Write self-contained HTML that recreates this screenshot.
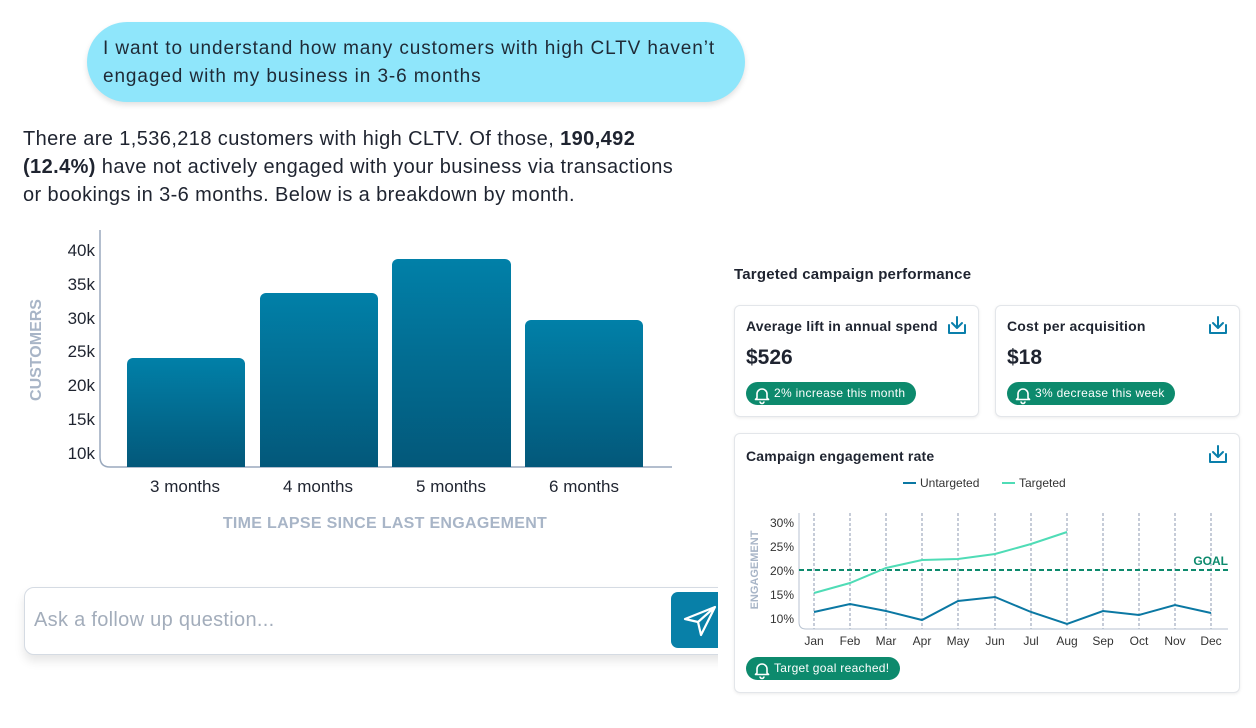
<!DOCTYPE html>
<html><head><meta charset="utf-8"><style>
body{margin:0;width:1256px;height:728px;background:#fff;position:relative;overflow:hidden;font-family:"Liberation Sans",sans-serif;color:#1f2430}
.a{position:absolute}
.card{position:absolute;background:#fff;border:1px solid #e3e6ea;border-radius:6px;box-shadow:0 1px 3px rgba(0,0,0,.08)}
.pill{position:absolute;background:#0d8a6d;color:#fff;border-radius:12px;font-size:12px;height:23px;line-height:23px;padding:0 10px 0 28px;letter-spacing:.3px}
.t{font-weight:bold;font-size:14px;letter-spacing:.2px}
</style></head><body>
<div class="a" style="left:87px;top:22px;width:658px;height:80px;border-radius:40px;background:#8fe6fb;box-shadow:0 3px 6px rgba(0,0,0,.12)"></div>
<div class="a" style="left:103px;top:35px;font-size:19px;line-height:28px;color:#1f2a36;letter-spacing:.9px">I want to understand how many customers with high CLTV haven’t<br>engaged with my business in 3-6 months</div>
<div class="a" style="left:23px;top:125px;font-size:20px;line-height:28px;color:#1f2430;letter-spacing:.4px">There are 1,536,218 customers with high CLTV. Of those, <b>190,492</b><br><b>(12.4%)</b> have not actively engaged with your business via transactions<br>or bookings in 3-6 months. Below is a breakdown by month.</div>

<svg class="a" style="left:0;top:0" width="720" height="560">
<defs><linearGradient id="g" x1="0" y1="0" x2="0" y2="1"><stop offset="0" stop-color="#0180a8"/><stop offset="1" stop-color="#03587a"/></linearGradient></defs>
<path d="M100 230 V457 Q100 467 110 467 H672" fill="none" stroke="#9aa9bd" stroke-width="1.5"/>
<g font-size="17" fill="#1f2430" text-anchor="end">
<text x="95" y="256">40k</text><text x="95" y="290">35k</text><text x="95" y="324">30k</text><text x="95" y="357">25k</text><text x="95" y="391">20k</text><text x="95" y="425">15k</text><text x="95" y="459">10k</text></g>
<text transform="translate(41,350) rotate(-90)" text-anchor="middle" font-size="16" font-weight="bold" fill="#a8b5c7">CUSTOMERS</text>
<path d="M127 467V364a6 6 0 0 1 6-6h106a6 6 0 0 1 6 6V467Z" fill="url(#g)"/>
<path d="M260 467V299a6 6 0 0 1 6-6h106a6 6 0 0 1 6 6V467Z" fill="url(#g)"/>
<path d="M392 467V265a6 6 0 0 1 6-6h107a6 6 0 0 1 6 6V467Z" fill="url(#g)"/>
<path d="M525 467V326a6 6 0 0 1 6-6h106a6 6 0 0 1 6 6V467Z" fill="url(#g)"/>
<g font-size="17" fill="#1f2430" text-anchor="middle">
<text x="185" y="492">3 months</text><text x="318" y="492">4 months</text><text x="451" y="492">5 months</text><text x="584" y="492">6 months</text></g>
<text x="385" y="528" text-anchor="middle" font-size="16" font-weight="bold" fill="#a8b5c7" letter-spacing="0.3">TIME LAPSE SINCE LAST ENGAGEMENT</text>
</svg>

<div class="a" style="left:24px;top:587px;width:720px;height:66px;border:1px solid #d5dbe3;border-radius:10px;background:#fff;box-shadow:0 6px 10px rgba(0,0,0,.1)"></div>
<div class="a" style="left:34px;top:609px;font-size:20px;color:#a3adbb;letter-spacing:.3px">Ask a follow up question...</div>
<div class="a" style="left:671px;top:592px;width:60px;height:56px;background:#0880a8;border-radius:7px"></div>
<svg class="a" style="left:682px;top:602px" width="36" height="36"><path d="M3 17 L33 5 L19 33 L16 20 Z M16 20 L33 5" fill="none" stroke="#fff" stroke-width="2.2" stroke-linejoin="round"/></svg>
<div class="a" style="left:718px;top:560px;width:20px;height:120px;background:#fff"></div>

<div class="a t" style="left:734px;top:266px;font-size:15px">Targeted campaign performance</div>
<div class="card" style="left:734px;top:305px;width:243px;height:110px"></div>
<div class="card" style="left:995px;top:305px;width:243px;height:110px"></div>
<div class="a t" style="left:746px;top:318px">Average lift in annual spend</div>
<div class="a t" style="left:1007px;top:318px">Cost per acquisition</div>
<div class="a" style="left:746px;top:346px;font-size:21px;font-weight:bold">$526</div>
<div class="a" style="left:1007px;top:346px;font-size:21px;font-weight:bold">$18</div>
<div class="pill" style="left:746px;top:382px;width:132px">2% increase this month</div>
<div class="pill" style="left:1007px;top:382px;width:130px">3% decrease this week</div>

<div class="card" style="left:734px;top:433px;width:504px;height:258px"></div>
<div class="a t" style="left:746px;top:448px">Campaign engagement rate</div>
<div class="pill" style="left:746px;top:657px;width:116px">Target goal reached!</div>

<svg class="a" style="left:0;top:0" width="1256" height="728" font-family="Liberation Sans,sans-serif">
<g fill="none" stroke="#0a7fab" stroke-width="2" stroke-linecap="round" stroke-linejoin="round">
<path d="M949 325v8h16v-8M957 317v11M952 323l5 5 5-5"/>
<path d="M1210 325v8h16v-8M1218 317v11M1213 323l5 5 5-5"/>
<path d="M1210 454v8h16v-8M1218 446v11M1213 452l5 5 5-5"/>
</g>
<g fill="none" stroke="#fff" stroke-width="1.6" stroke-linejoin="round">
<path d="M757 398v-4a5 5 0 0 1 10 0v4l1.5 1.5h-13Z M760 401.5a2 2 0 0 0 4 0"/>
<path d="M1018 398v-4a5 5 0 0 1 10 0v4l1.5 1.5h-13Z M1021 401.5a2 2 0 0 0 4 0"/>
<path d="M757 673v-4a5 5 0 0 1 10 0v4l1.5 1.5h-13Z M760 676.5a2 2 0 0 0 4 0"/>
</g>
<line x1="903" y1="483" x2="916" y2="483" stroke="#0b78a3" stroke-width="2"/>
<text x="920" y="487" font-size="12" fill="#333">Untargeted</text>
<line x1="1002" y1="483" x2="1015" y2="483" stroke="#4fdcb6" stroke-width="2"/>
<text x="1019" y="487" font-size="12" fill="#333">Targeted</text>
<g stroke="#8d9ab0" stroke-width="1" stroke-dasharray="3,2">
<line x1="814" y1="513" x2="814" y2="629"/><line x1="850" y1="513" x2="850" y2="629"/><line x1="886" y1="513" x2="886" y2="629"/><line x1="922" y1="513" x2="922" y2="629"/><line x1="958" y1="513" x2="958" y2="629"/><line x1="995" y1="513" x2="995" y2="629"/><line x1="1031" y1="513" x2="1031" y2="629"/><line x1="1067" y1="513" x2="1067" y2="629"/><line x1="1103" y1="513" x2="1103" y2="629"/><line x1="1139" y1="513" x2="1139" y2="629"/><line x1="1175" y1="513" x2="1175" y2="629"/><line x1="1211" y1="513" x2="1211" y2="629"/></g>
<path d="M799 513V622Q799 629 806 629H1228" fill="none" stroke="#b7c2d0" stroke-width="1"/>
<line x1="799" y1="570" x2="1228" y2="570" stroke="#0d8a6d" stroke-width="2" stroke-dasharray="5,3"/>
<text x="1228" y="565" text-anchor="end" font-size="12" font-weight="bold" fill="#0d8a6d">GOAL</text>
<g font-size="12" fill="#333" text-anchor="end">
<text x="794" y="527">30%</text><text x="794" y="551">25%</text><text x="794" y="575">20%</text><text x="794" y="599">15%</text><text x="794" y="623">10%</text></g>
<text transform="translate(758,570) rotate(-90)" text-anchor="middle" font-size="11" font-weight="bold" fill="#a8b5c7">ENGAGEMENT</text>
<polyline fill="none" stroke="#4fdcb6" stroke-width="2" points="814,593 850,583 886,568 922,560 958,559 995,554 1031,544 1067,532"/>
<polyline fill="none" stroke="#0b78a3" stroke-width="2" points="814,612 850,604 886,611 922,620 958,601 995,597 1031,612 1067,624 1103,611 1139,615 1175,605 1211,613"/>
<g font-size="12" fill="#333" text-anchor="middle">
<text x="814" y="645">Jan</text><text x="850" y="645">Feb</text><text x="886" y="645">Mar</text><text x="922" y="645">Apr</text><text x="958" y="645">May</text><text x="995" y="645">Jun</text><text x="1031" y="645">Jul</text><text x="1067" y="645">Aug</text><text x="1103" y="645">Sep</text><text x="1139" y="645">Oct</text><text x="1175" y="645">Nov</text><text x="1211" y="645">Dec</text></g>
</svg>
</body></html>
